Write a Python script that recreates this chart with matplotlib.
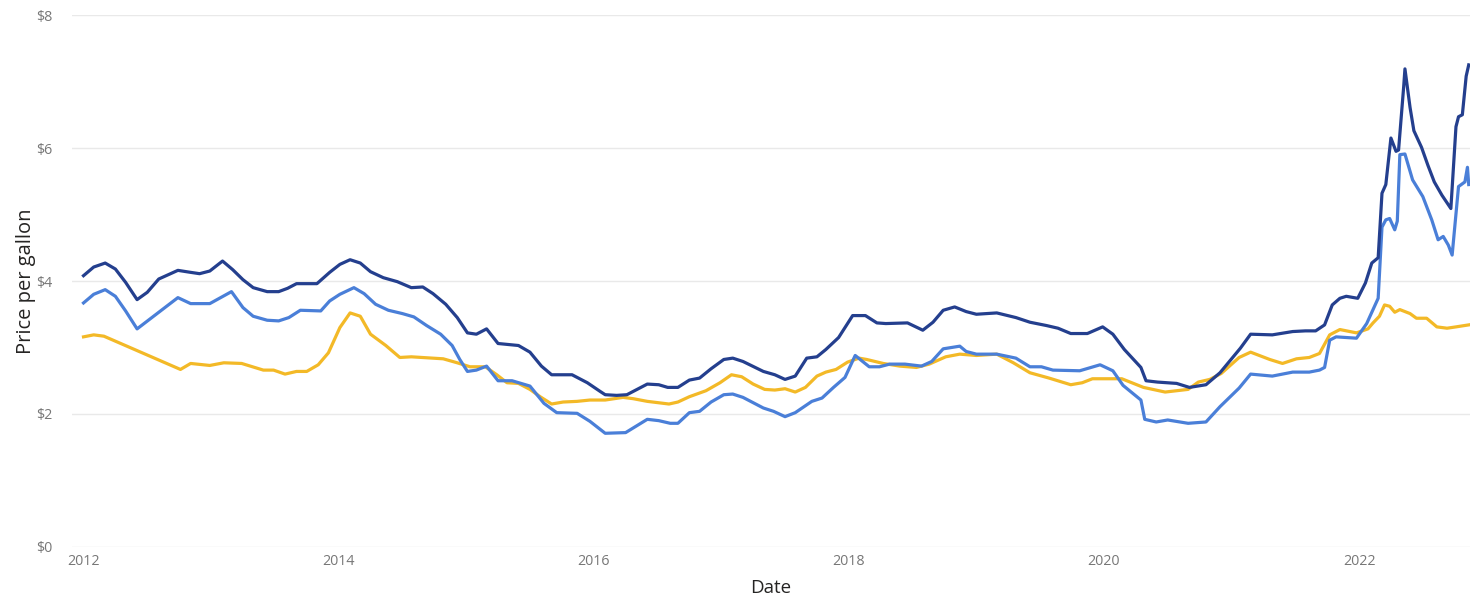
import matplotlib
matplotlib.use('Agg')
import matplotlib.pyplot as plt
from matplotlib.ticker import FuncFormatter

plt.rcParams['font.family'] = ['Open Sans', 'DejaVu Sans']

# decimal year / price per gallon
navy_x = [2012.00, 2012.08, 2012.17, 2012.25, 2012.33, 2012.42, 2012.50, 2012.59, 2012.74, 2012.84,
          2012.91, 2012.99, 2013.09, 2013.17, 2013.25, 2013.33, 2013.44, 2013.53, 2013.60, 2013.67,
          2013.83, 2013.93, 2014.01, 2014.09, 2014.17, 2014.25, 2014.35, 2014.46, 2014.57, 2014.66,
          2014.74, 2014.84, 2014.93, 2015.01, 2015.08, 2015.16, 2015.25, 2015.41, 2015.50, 2015.59,
          2015.67, 2015.83, 2015.95, 2016.05, 2016.09, 2016.18, 2016.26, 2016.42, 2016.51, 2016.58,
          2016.66, 2016.75, 2016.83, 2016.92, 2017.02, 2017.09, 2017.17, 2017.33, 2017.42, 2017.50,
          2017.58, 2017.67, 2017.75, 2017.82, 2017.92, 2018.03, 2018.13, 2018.22, 2018.29, 2018.46,
          2018.58, 2018.66, 2018.74, 2018.83, 2018.92, 2019.00, 2019.16, 2019.31, 2019.42, 2019.55,
          2019.64, 2019.74, 2019.87, 2019.99, 2020.07, 2020.16, 2020.29, 2020.33, 2020.42, 2020.57,
          2020.67, 2020.80, 2020.91, 2021.07, 2021.15, 2021.32, 2021.48, 2021.58, 2021.66, 2021.73,
          2021.79, 2021.85, 2021.90, 2021.99, 2022.05, 2022.10, 2022.15, 2022.18, 2022.21, 2022.25,
          2022.29, 2022.31, 2022.35, 2022.36, 2022.40, 2022.43, 2022.49, 2022.54, 2022.59, 2022.65,
          2022.72, 2022.76, 2022.78, 2022.81, 2022.84, 2022.86]
navy_y = [4.08, 4.21, 4.27, 4.18, 3.98, 3.72, 3.83, 4.03, 4.16, 4.13,
          4.11, 4.15, 4.30, 4.17, 4.02, 3.90, 3.84, 3.84, 3.89, 3.96,
          3.96, 4.13, 4.25, 4.32, 4.27, 4.14, 4.05, 3.99, 3.90, 3.91,
          3.81, 3.65, 3.45, 3.22, 3.20, 3.28, 3.06, 3.03, 2.93, 2.72,
          2.59, 2.59, 2.47, 2.34, 2.29, 2.28, 2.29, 2.45, 2.44, 2.40,
          2.40, 2.51, 2.54, 2.68, 2.82, 2.84, 2.79, 2.64, 2.59, 2.52,
          2.57, 2.84, 2.86, 2.97, 3.15, 3.48, 3.48, 3.37, 3.36, 3.37,
          3.26, 3.38, 3.56, 3.61, 3.54, 3.50, 3.52, 3.45, 3.38, 3.33,
          3.29, 3.21, 3.21, 3.31, 3.20, 2.97, 2.70, 2.50, 2.48, 2.46,
          2.40, 2.44, 2.62, 2.99, 3.20, 3.19, 3.24, 3.25, 3.25, 3.34,
          3.64, 3.74, 3.77, 3.74, 3.97, 4.27, 4.35, 5.32, 5.45, 6.15,
          5.95, 5.97, 6.92, 7.19, 6.61, 6.26, 6.01, 5.74, 5.49, 5.29,
          5.09, 6.32, 6.47, 6.50, 7.08, 7.25]

blue_x = [2012.00, 2012.08, 2012.17, 2012.25, 2012.33, 2012.42, 2012.74, 2012.84, 2012.99, 2013.16,
          2013.25, 2013.33, 2013.44, 2013.53, 2013.61, 2013.70, 2013.86, 2013.93, 2014.01, 2014.12,
          2014.20, 2014.29, 2014.39, 2014.50, 2014.59, 2014.69, 2014.80, 2014.89, 2014.95, 2015.01,
          2015.08, 2015.16, 2015.25, 2015.36, 2015.50, 2015.61, 2015.71, 2015.87, 2015.97, 2016.09,
          2016.25, 2016.42, 2016.51, 2016.60, 2016.66, 2016.75, 2016.83, 2016.92, 2017.02, 2017.09,
          2017.17, 2017.33, 2017.41, 2017.50, 2017.58, 2017.71, 2017.79, 2017.88, 2017.97, 2018.05,
          2018.16, 2018.24, 2018.32, 2018.44, 2018.57, 2018.65, 2018.74, 2018.87, 2018.92, 2019.00,
          2019.16, 2019.31, 2019.42, 2019.51, 2019.60, 2019.81, 2019.97, 2020.07, 2020.15, 2020.29,
          2020.32, 2020.41, 2020.50, 2020.66, 2020.80, 2020.91, 2021.06, 2021.15, 2021.32, 2021.48,
          2021.61, 2021.69, 2021.73, 2021.77, 2021.82, 2021.98, 2022.06, 2022.15, 2022.18, 2022.21,
          2022.24, 2022.28, 2022.30, 2022.32, 2022.36, 2022.42, 2022.50, 2022.57, 2022.62, 2022.66,
          2022.70, 2022.73, 2022.78, 2022.83, 2022.85, 2022.86]
blue_y = [3.67, 3.80, 3.87, 3.77, 3.55, 3.28, 3.75, 3.66, 3.66, 3.84,
          3.60, 3.47, 3.41, 3.40, 3.45, 3.56, 3.55, 3.70, 3.80, 3.90,
          3.81, 3.65, 3.56, 3.51, 3.46, 3.33, 3.20, 3.03, 2.82, 2.64,
          2.66, 2.72, 2.50, 2.50, 2.42, 2.16, 2.02, 2.01, 1.89, 1.71,
          1.72, 1.92, 1.90, 1.86, 1.86, 2.02, 2.04, 2.18, 2.29, 2.30,
          2.25, 2.09, 2.04, 1.96, 2.02, 2.19, 2.24, 2.40, 2.55, 2.88,
          2.71, 2.71, 2.75, 2.75, 2.72, 2.79, 2.98, 3.02, 2.94, 2.90,
          2.90, 2.84, 2.71, 2.71, 2.66, 2.65, 2.74, 2.65, 2.43, 2.21,
          1.92, 1.88, 1.91, 1.86, 1.88, 2.11, 2.39, 2.60, 2.57, 2.63,
          2.63, 2.66, 2.70, 3.11, 3.16, 3.14, 3.36, 3.74, 4.81, 4.92,
          4.94, 4.77, 4.90, 5.90, 5.91, 5.52, 5.27, 4.92, 4.62, 4.67,
          4.54, 4.39, 5.42, 5.49, 5.71, 5.45]

yellow_x = [2012.00, 2012.08, 2012.16, 2012.76, 2012.84, 2012.99, 2013.10, 2013.24, 2013.41, 2013.49,
            2013.58, 2013.67, 2013.75, 2013.84, 2013.92, 2014.01, 2014.09, 2014.17, 2014.25, 2014.37,
            2014.48, 2014.57, 2014.82, 2014.93, 2015.03, 2015.15, 2015.24, 2015.32, 2015.41, 2015.50,
            2015.58, 2015.67, 2015.76, 2015.87, 2015.97, 2016.09, 2016.23, 2016.31, 2016.42, 2016.59,
            2016.66, 2016.75, 2016.88, 2016.99, 2017.08, 2017.16, 2017.25, 2017.34, 2017.42, 2017.50,
            2017.58, 2017.66, 2017.75, 2017.82, 2017.90, 2017.99, 2018.08, 2018.14, 2018.27, 2018.40,
            2018.53, 2018.63, 2018.76, 2018.87, 2019.00, 2019.16, 2019.29, 2019.42, 2019.57, 2019.74,
            2019.83, 2019.91, 2020.10, 2020.14, 2020.31, 2020.48, 2020.66, 2020.74, 2020.83, 2020.92,
            2021.06, 2021.15, 2021.30, 2021.40, 2021.51, 2021.61, 2021.69, 2021.77, 2021.85, 2021.98,
            2022.07, 2022.11, 2022.16, 2022.20, 2022.24, 2022.28, 2022.32, 2022.40, 2022.45, 2022.53,
            2022.61, 2022.69, 2022.76, 2022.86]
yellow_y = [3.16, 3.19, 3.17, 2.67, 2.76, 2.73, 2.77, 2.76, 2.66, 2.66,
            2.60, 2.64, 2.64, 2.74, 2.92, 3.30, 3.52, 3.47, 3.20, 3.03,
            2.85, 2.86, 2.83, 2.77, 2.71, 2.71, 2.59, 2.47, 2.46, 2.37,
            2.26, 2.15, 2.18, 2.19, 2.21, 2.21, 2.25, 2.23, 2.19, 2.15,
            2.18, 2.26, 2.35, 2.47, 2.59, 2.56, 2.45, 2.37, 2.36, 2.38,
            2.33, 2.40, 2.57, 2.63, 2.67, 2.78, 2.84, 2.82, 2.76, 2.72,
            2.70, 2.75, 2.86, 2.90, 2.88, 2.90, 2.77, 2.62, 2.54, 2.44,
            2.47, 2.53, 2.53, 2.53, 2.40, 2.33, 2.37, 2.48, 2.52, 2.61,
            2.85, 2.93, 2.82, 2.76, 2.83, 2.85, 2.91, 3.19, 3.27, 3.22,
            3.28, 3.37, 3.47, 3.64, 3.62, 3.53, 3.57, 3.51, 3.44, 3.44,
            3.31, 3.29, 3.31, 3.34]

year_ticks = [2012, 2014, 2016, 2018, 2020, 2022]
price_ticks = [0, 2, 4, 6, 8]

fig = plt.figure(figsize=(14.7, 5.98), dpi=100)
ax = fig.add_axes([0.049, 0.0853, 0.951, 0.8896])

ax.plot(yellow_x, yellow_y, color='#F3B927', lw=2.3, solid_joinstyle='round')
ax.plot(blue_x, blue_y, color='#4A7FD8', lw=2.3, solid_joinstyle='round')
ax.plot(navy_x, navy_y, color='#243F8E', lw=2.3, solid_joinstyle='round')

ax.set_xlim(2011.91, 2022.87)
ax.set_ylim(0, 8)
ax.set_xticks(year_ticks)
ax.set_yticks(price_ticks)
ax.yaxis.set_major_formatter(FuncFormatter(lambda v, p: '${:d}'.format(int(v))))
ax.grid(axis='y', color='#E9E9E9', lw=1)
ax.set_axisbelow(True)
for s in ax.spines.values():
    s.set_visible(False)
ax.tick_params(length=0, labelsize=10.3, labelcolor='#777777')
ax.tick_params(axis='y', pad=14)
ax.tick_params(axis='x', pad=5)

ax.set_xlabel('Date', fontsize=13.5, color='#252423', labelpad=7)
ax.set_ylabel('Price per gallon', fontsize=14.5, color='#252423')
ax.yaxis.set_label_coords(-0.026, 0.5)

fig.savefig('out.png', dpi=100)
